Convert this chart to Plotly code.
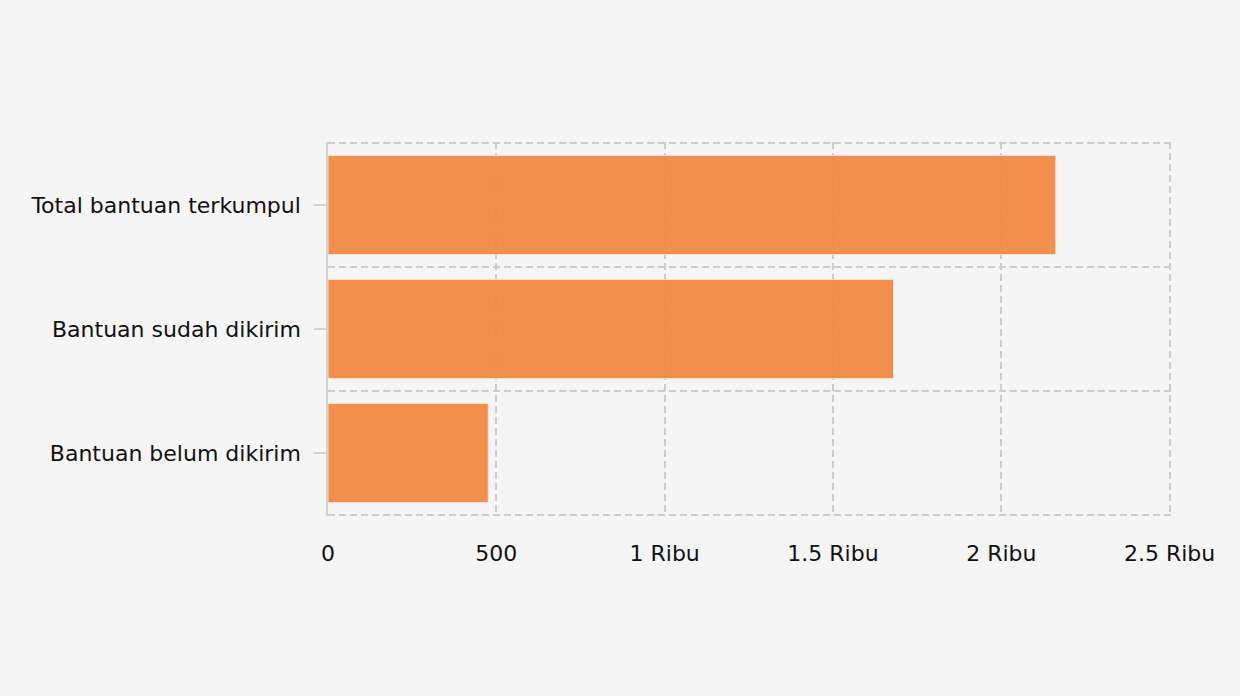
#!/usr/bin/env python3
# coding: utf-8

from plotly import graph_objs as go


CATEGORIES = ['Bantuan belum dikirim', 'Bantuan sudah dikirim', 'Total bantuan terkumpul']
VALUES = [476, 1680, 2162]

X_TICKS = [0, 500, 1000, 1500, 2000, 2500]
X_TICK_LABELS = ['0', '500', '1 Ribu', '1.5 Ribu', '2 Ribu', '2.5 Ribu']

BG = '#f5f5f5'
GRID = '#cdcdcd'
GRID_DASH = '7px,4px'
FONT = 'DejaVu Sans'


def get_figure():
    fig = go.Figure(go.Bar(
        x=VALUES,
        y=CATEGORIES,
        orientation='h',
        marker=dict(color='#f3873f', opacity=0.92,
                    line=dict(color='#fbe3d3', width=1)),
        hoverinfo='x+y',
    ))

    # dashed lines on the category boundaries
    for i in range(len(CATEGORIES) + 1):
        fig.add_shape(type='line', xref='paper', yref='y',
                      x0=0, x1=1, y0=i - 0.5, y1=i - 0.5,
                      line=dict(color=GRID, width=2, dash=GRID_DASH),
                      layer='below')

    fig.update_layout(
        width=1240, height=696,
        paper_bgcolor=BG, plot_bgcolor=BG,
        margin=dict(l=328, r=67, t=142, b=180),
        font=dict(family=FONT, size=22, color='#111111'),
        bargap=0.2,
        showlegend=False,
        xaxis=dict(
            # a hair past the last tick so its grid line is kept
            range=[0, 2510],
            tickvals=X_TICKS, ticktext=X_TICK_LABELS,
            showgrid=True, gridcolor=GRID, gridwidth=2, griddash=GRID_DASH,
            zeroline=False, showline=False, ticks='',
            ticklabelstandoff=22,
        ),
        yaxis=dict(
            type='category',
            categoryorder='array', categoryarray=CATEGORIES,
            showgrid=False, zeroline=False,
            showline=True, linecolor='#d2d2d2', linewidth=1.5,
            ticks='outside', ticklen=12, tickcolor='#d2d2d2', tickwidth=1.5,
            ticklabelstandoff=9,
        ),
    )

    return fig


def main():
    fig = get_figure()
    fig.write_html('out.html', config={'displayModeBar': False},
                   post_script="document.body.style.margin='0';")


if __name__ == '__main__':
    main()
